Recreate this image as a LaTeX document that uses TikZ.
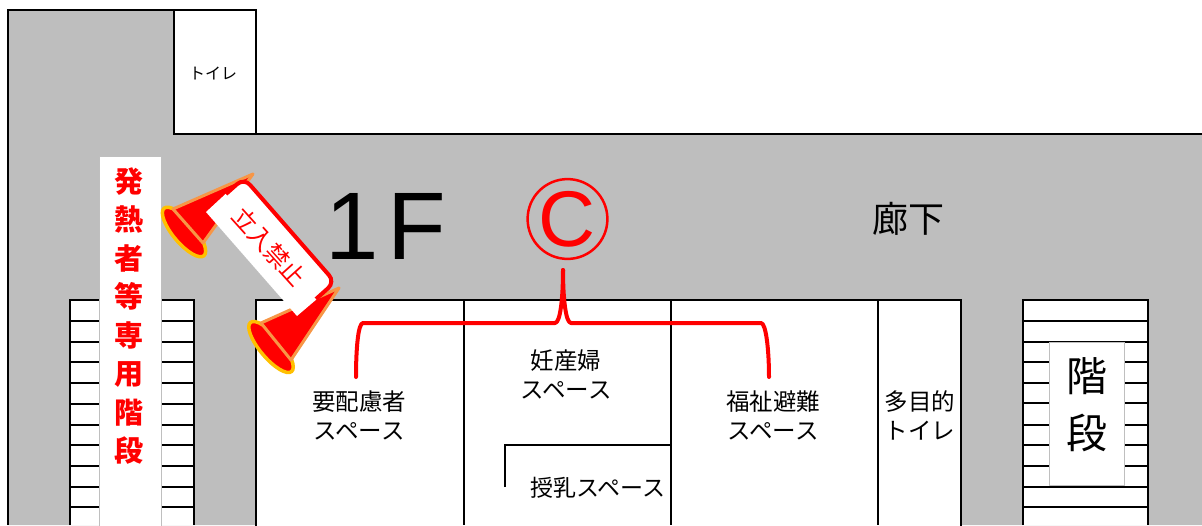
\documentclass[tikz,border=0pt]{standalone}
\usepackage{fontspec}
\setmainfont{Noto Sans CJK JP}
\newfontfamily\latn{Liberation Sans}
\definecolor{hall}{HTML}{BEBEBE}
\definecolor{conefill}{HTML}{FF0000}
\definecolor{coneline}{HTML}{F79646}
\definecolor{conerim}{HTML}{FFC000}
\tikzset{
  wall/.style={draw=black,line width=2pt},
  thinwall/.style={draw=black,line width=1.5pt},
  room/.style={wall,fill=white},
  sign/.style={draw=black!25,line width=1pt,fill=white},
  label/.style={inner sep=0pt,align=center,black},
  rim/.style={draw=conerim,line width=3.5pt,fill=conefill},
  conebody/.style={fill=conefill},
  coneedge/.style={draw=coneline,line width=3pt,line cap=round},
  callout/.style={draw=red,line width=4pt,line cap=round,line join=round},
}
\begin{document}
\begin{tikzpicture}[x=1pt,y=-1pt]
\useasboundingbox (0,0) rectangle (1202,525);
\fill[white] (0,0) rectangle (1202,525);
% hall
\fill[hall] (8,10) -- (174,10) -- (174,134) -- (1202,134) -- (1202,525) -- (8,525) -- cycle;
\draw[wall] (8,525) -- (8,10) -- (257,10);
\draw[wall] (174,10) -- (174,134);
\draw[wall] (256,10) -- (256,134);
\draw[wall] (173,134) -- (1202,134);
\node[label,font=\fontsize{16}{18}\selectfont] (toilet1) at (213,73) {トイレ};
% left stairs
\fill[white] (70,300) rectangle (194,525);
\draw[wall] (70,525) -- (70,300) -- (194,300) -- (194,525);
\foreach \y in {321,342,362,383,404,425,445,466,487,507}
  \draw[wall] (70,\y) -- (194,\y);
\node[sign,minimum width=62pt,minimum height=372pt,inner sep=0pt] (feversign) at (130,342) {};
\node[inner sep=0pt,align=center,red,font=\bfseries\fontsize{29}{38.5}\selectfont] (fevertext) at (129,316) {発\\熱\\者\\等\\専\\用\\階\\段};
% rooms
\draw[room] (256,526) -- (256,300) -- (961,300) -- (961,526);
\draw[wall] (464,300) -- (464,525);
\draw[wall] (671,300) -- (671,525);
\draw[wall] (878,300) -- (878,525);
\draw[thinwall] (505,487) -- (505,445) -- (672,445);
% right stairs
\fill[white] (1023,300) rectangle (1148,525);
\draw[wall] (1023,525) -- (1023,300) -- (1148,300) -- (1148,525);
\foreach \y in {321,342,362,383,403,425,445,466,487,507}
  \draw[wall] (1023,\y) -- (1148,\y);
\node[sign,minimum width=75pt,minimum height=143pt,inner sep=0pt] (stairsign) at (1087,414) {};
\node[inner sep=0pt,align=center,font=\fontsize{41}{57}\selectfont] (stairtext) at (1087,405) {階\\段};
% labels
\node[label,font=\fontsize{23.5}{29}\selectfont] (a) at (359,415) {要配慮者\\スペース};
\node[label,font=\fontsize{23.5}{29}\selectfont] (b) at (566,374) {妊産婦\\スペース};
\node[label,font=\fontsize{23.5}{29}\selectfont] (c) at (773,415) {福祉避難\\スペース};
\node[label,font=\fontsize{23.5}{29}\selectfont] (d) at (920,415) {多目的\\トイレ};
\node[label,font=\fontsize{23}{26}\selectfont] (e) at (598,488) {授乳スペース};
\node[label,font=\fontsize{36}{40}\selectfont] (corridor) at (908,219) {廊下};
\node[label,font=\latn\fontsize{96}{110}\selectfont] (floor) at (386,226) {1\hspace{8pt}F};
\node[circle,draw=red,line width=2.5pt,minimum size=75pt,inner sep=0pt,red,font=\latn\fontsize{79}{90}\selectfont] (mark) at (567.5,219) {C};
% brace
\draw[callout] (563,270) .. controls (563,300) and (566,323) .. (571,323) -- (761,323) .. controls (766,323) and (769,350) .. (769,377);
\draw[callout] (563,270) .. controls (563,300) and (560,323) .. (555,323) -- (363,323) .. controls (358,323) and (356,350) .. (356,377);
% cones
\coordinate (apexA) at (253,174);
\coordinate (baseA1) at (173,209);
\coordinate (baseA2) at (203,243);
\draw[rim,rotate around={-50:(184,232)}] (184,232) ellipse (31 and 11);
\fill[conebody] (apexA) -- (baseA1) -- (baseA2) -- cycle;
\draw[coneedge] (baseA1) -- (apexA);
\draw[coneedge] (baseA1) -- (baseA2);
\draw[coneedge] (baseA2) -- (apexA);
\coordinate (apexB) at (339,288);
\coordinate (baseB1) at (261,323);
\coordinate (baseB2) at (291,360);
\draw[rim,rotate around={-50:(271,347)}] (271,347) ellipse (32 and 11);
\fill[conebody] (apexB) -- (baseB1) -- (baseB2) -- cycle;
\draw[coneedge] (baseB1) -- (apexB);
\draw[coneedge] (baseB1) -- (baseB2);
\draw[coneedge] (baseB2) -- (apexB);
% no-entry sign
\fill[white] (206,212) -- (232,188) -- (240,182) -- (248,182) -- (331,277) -- (331,287) -- (297,316) -- cycle;
\draw[draw=red,line width=4pt,rounded corners=9pt] (226,194) -- (244,178) -- (335,282) -- (316,299);
\node[inner sep=0pt,red,rotate=-48,font=\fontsize{24}{26}\selectfont] (noentry) at (269,247) {立入禁止};
\end{tikzpicture}
\end{document}
